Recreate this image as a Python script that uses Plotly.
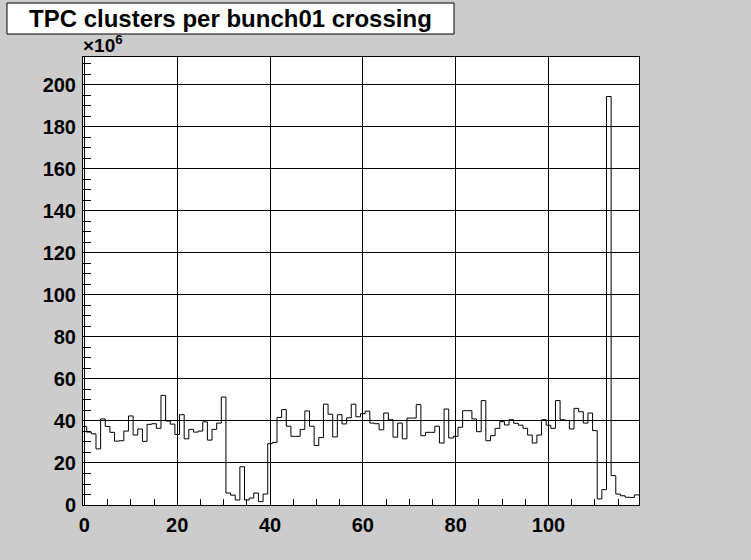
import plotly.graph_objects as go

# bunch crossing index (bin centres)
crossing = list(range(120))

# TPC clusters per bunch crossing, in units of 10^6
clusters_1e6 = [
    37.4, 34.7, 33.9, 26.7, 41.0, 37.4, 34.6, 30.4, 30.6, 35.2,
    42.4, 33.3, 36.2, 30.3, 38.4, 38.7, 36.5, 52.2, 40.0, 38.5,
    33.6, 43.0, 31.5, 36.0, 34.7, 35.2, 39.6, 30.9, 36.0, 39.0,
    51.4, 5.7, 4.7, 2.4, 18.2, 2.4, 3.3, 5.7, 1.6, 5.2,
    29.2, 29.8, 41.7, 45.4, 37.5, 32.7, 32.7, 36.0, 44.8, 37.5,
    28.3, 32.1, 48.0, 43.2, 32.4, 43.0, 38.6, 41.5, 48.0, 42.0,
    43.5, 44.7, 39.0, 38.7, 35.8, 43.8, 40.6, 32.3, 39.0, 31.5,
    41.4, 41.4, 47.8, 33.0, 34.6, 34.6, 37.5, 29.5, 45.7, 31.9,
    32.7, 37.0, 44.9, 44.9, 41.0, 34.9, 49.7, 30.6, 33.0, 36.5,
    39.7, 38.1, 40.6, 38.9, 38.0, 36.5, 33.3, 29.5, 33.3, 40.6,
    38.0, 36.5, 49.7, 40.6, 40.3, 36.2, 46.0, 44.4, 39.0, 43.8,
    35.4, 2.9, 7.3, 194.5, 14.0, 5.2, 4.4, 3.7, 3.6, 4.8,
]

x_ticks = [0, 20, 40, 60, 80, 100]
y_ticks = [0, 20, 40, 60, 80, 100, 120, 140, 160, 180, 200]

title_text = "TPC clusters per bunch01 crossing"
bin_width = 1.0

# histogram outline: step line over bin edges
edges = [c - bin_width / 2 for c in crossing] + [crossing[-1] + bin_width / 2]
step_y = clusters_1e6 + [clusters_1e6[-1]]

fig = go.Figure()
fig.add_trace(go.Scatter(
    x=edges, y=step_y, mode="lines", line_shape="hv",
    line=dict(color="black", width=1), hoverinfo="skip", showlegend=False,
))

font_bold = "Liberation Sans, Arial, sans-serif"

fig.update_layout(
    width=751, height=560,
    margin=dict(l=83, r=112, t=57, b=55, autoexpand=False),
    paper_bgcolor="#cccccc",
    plot_bgcolor="white",
    showlegend=False,
    xaxis=dict(
        range=[-0.3, 119.5], automargin=False,
        tickvals=x_ticks, ticktext=[str(v) for v in x_ticks],
        ticks="inside", ticklen=12, tickwidth=1, tickcolor="black",
        minor=dict(dtick=5, tick0=0, ticks="inside", ticklen=6, tickcolor="black", showgrid=False),
        showgrid=True, gridcolor="black", gridwidth=1,
        showline=True, linecolor="black", linewidth=1, mirror=True,
        zeroline=False,
        tickfont=dict(family=font_bold, size=20, color="black", weight="bold"),
        ticklabelstandoff=2,
    ),
    yaxis=dict(
        range=[0, 213.3], automargin=False,
        tickvals=y_ticks, ticktext=[str(v) for v in y_ticks],
        ticks="inside", ticklen=14, tickwidth=1, tickcolor="black",
        minor=dict(dtick=5, tick0=0, ticks="inside", ticklen=8, tickcolor="black", showgrid=False),
        showgrid=True, gridcolor="black", gridwidth=1,
        showline=True, linecolor="black", linewidth=1, mirror=True,
        zeroline=False,
        tickfont=dict(family=font_bold, size=20, color="black", weight="bold"),
        ticklabelstandoff=2,
    ),
    shapes=[dict(
        type="rect", xref="paper", yref="paper",
        x0=-0.1367, x1=0.6673, y0=1.0513, y1=1.1205,
        fillcolor="white", line=dict(color="black", width=1), layer="above",
    )],
    annotations=[
        dict(text="<b>" + title_text + "</b>", xref="paper", yref="paper",
             x=0.2644, y=1.086, xanchor="center", yanchor="middle", showarrow=False,
             font=dict(family=font_bold, size=24, color="black")),
        dict(text="<b>×10<sup>6</sup></b>", xref="paper", yref="paper",
             x=-0.004, y=0.998, xanchor="left", yanchor="bottom", showarrow=False,
             font=dict(family=font_bold, size=19, color="black")),
    ],
)

fig.write_html(
    "out.html",
    config={"displayModeBar": False},
    post_script="document.body.style.margin='0';document.body.style.padding='0';"
                "document.body.style.background='#cccccc';"
                "document.body.style.overflow='hidden';",
)
